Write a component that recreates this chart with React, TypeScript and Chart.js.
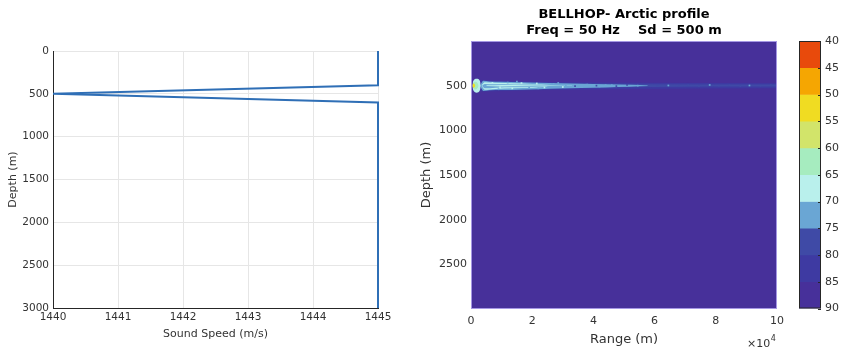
import React, { useEffect, useRef } from "react";
import { Chart, registerables } from "chart.js";

Chart.register(...registerables);
Chart.defaults.font.family = "'DejaVu Sans', sans-serif";

// ---------- Sound speed profile (left panel) ----------
const profileDepths = [0, 400, 500, 600, 3000];
const profileSpeeds = [1445, 1445, 1440, 1445, 1445];
const speedTicks = [1440, 1441, 1442, 1443, 1444, 1445];
const depthTicksLeft = [0, 500, 1000, 1500, 2000, 2500, 3000];

// ---------- Transmission loss (right panel) ----------
const rangeTicks = [0, 20000, 40000, 60000, 80000, 100000];
const depthTicksRight = [500, 1000, 1500, 2000, 2500];
const tlLevels = [40, 45, 50, 55, 60, 65, 70, 75, 80, 85, 90];
const tlColors = [
  "#e84a0c",
  "#f5a602",
  "#f0dc22",
  "#d2e46a",
  "#a6ecbf",
  "#b9f0ec",
  "#6aa6d4",
  "#3f4aa6",
  "#3e3aa2",
  "#47309a",
];
const backgroundLevel = 85;

// beam regions: ranges (m), top depth (m), bottom depth (m), TL level
const farOuterRanges = [3000, 20000, 50000, 100000];
const farOuterTop = [440, 455, 468, 474];
const farOuterBottom = [565, 550, 536, 530];
const farOuterLevel = 80;

const farInnerRanges = [5000, 30000, 60000, 100000];
const farInnerTop = [458, 474, 484, 488];
const farInnerBottom = [548, 528, 514, 510];
const farInnerLevel = 75;

const plumeOuterRanges = [3000, 4000, 6000, 10000, 16000, 22000, 29000, 36000, 44000, 52000, 58000];
const plumeOuterTop = [495, 445, 452, 456, 461, 467, 473, 479, 485, 491, 497];
const plumeOuterBottom = [505, 560, 552, 549, 545, 540, 533, 527, 520, 513, 505];
const plumeOuterLevel = 70;

const streakUpperRanges = [3500, 4500, 8000, 14000, 20000, 26000];
const streakUpperTop = [495, 462, 468, 474, 481, 489];
const streakUpperBottom = [505, 480, 484, 486, 488, 491];
const streakUpperLevel = 65;

const streakMidRanges = [5000, 10000, 18000, 26000, 33000];
const streakMidTop = [496, 492, 494, 497, 499];
const streakMidBottom = [504, 508, 506, 503, 501];
const streakMidLevel = 65;

const streakLowerRanges = [3500, 4500, 8000, 14000, 20000, 25000];
const streakLowerTop = [495, 530, 522, 518, 514, 510];
const streakLowerBottom = [505, 546, 536, 529, 522, 512];
const streakLowerLevel = 65;

const blobOuterRanges = [450, 600, 900, 1300, 1850, 2400, 2800, 3050, 3200];
const blobOuterTop = [500, 465, 440, 426, 422, 426, 440, 465, 500];
const blobOuterBottom = [500, 535, 560, 574, 578, 574, 560, 535, 500];
const blobOuterLevel = 65;

const blobInnerRanges = [500, 700, 1000, 1400, 1800, 2200, 2500];
const blobInnerTop = [500, 474, 460, 456, 460, 476, 500];
const blobInnerBottom = [500, 526, 540, 544, 540, 524, 500];
const blobInnerLevel = 60;

const coreRanges = [450, 600, 900, 1200, 1450];
const coreTop = [500, 482, 476, 484, 500];
const coreBottom = [500, 518, 524, 516, 500];
const coreLevel = 50;

const nearDotRanges = [7000, 9500, 12000, 13500, 16500, 19000, 21500, 24000, 27000, 30000, 9000, 15000, 22000, 28500, 34000, 38000, 42000, 46000];
const nearDotDepths = [470, 520, 465, 530, 472, 525, 476, 520, 480, 515, 540, 455, 530, 470, 512, 488, 508, 495];
const nearDotLevels = [65, 65, 70, 65, 65, 70, 65, 65, 70, 65, 70, 70, 70, 70, 70, 70, 70, 70];

const dotRanges = [31000, 34000, 37500, 41000, 44000, 47500, 51000, 54500, 58000, 61000, 64500, 68000, 71000, 74500, 78000, 81000, 84500, 88000, 91000, 94500, 98000];
const dotDepths = [495, 505, 490, 500, 495, 505, 492, 500, 495, 505, 498, 500, 495, 505, 492, 500, 495, 505, 498, 500, 495];
const dotLevels = [70, 75, 70, 75, 70, 75, 75, 70, 75, 75, 70, 75, 75, 75, 70, 75, 75, 75, 70, 75, 75];

const colorFor = (level: number) => tlColors[Math.max(0, Math.min(tlColors.length - 1, Math.round((level - tlLevels[0]) / 5)))];

const TEXT = "#333333";

export default function App() {
  const leftRef = useRef<HTMLCanvasElement>(null);
  const rightRef = useRef<HTMLCanvasElement>(null);
  const barRef = useRef<HTMLCanvasElement>(null);

  useEffect(() => {
    const charts: Chart[] = [];

    // ---- left: sound speed profile ----
    charts.push(
      new Chart(leftRef.current!, {
        type: "line",
        data: {
          datasets: [
            {
              data: profileSpeeds.map((s, i) => ({ x: s, y: profileDepths[i] })),
              borderColor: "#2f6fb6",
              borderWidth: 2,
              pointRadius: 0,
              fill: false,
              tension: 0,
              clip: false as any,
            },
          ],
        },
        options: {
          animation: false,
          responsive: false,
          maintainAspectRatio: false,
          layout: { padding: { left: 0, right: 22, top: 51, bottom: 0 } },
          plugins: { legend: { display: false }, tooltip: { enabled: false } },
          scales: {
            x: {
              type: "linear",
              min: 1440,
              max: 1445,
              afterBuildTicks: (s: any) => {
                s.ticks = speedTicks.map((v) => ({ value: v }));
              },
              afterFit: (s: any) => {
                s.height = 39;
              },
              ticks: { font: { size: 10.5 }, color: TEXT, padding: 3, maxRotation: 0, callback: (v: any) => String(v) },
              grid: { color: "#e6e6e6", drawTicks: false },
              border: { color: "#262626", width: 1 },
              title: { display: true, text: "Sound Speed (m/s)", font: { size: 11 }, color: TEXT, padding: { top: 0, bottom: 6 } },
            },
            y: {
              type: "linear",
              min: 0,
              max: 3000,
              reverse: true,
              afterBuildTicks: (s: any) => {
                s.ticks = depthTicksLeft.map((v) => ({ value: v }));
              },
              afterFit: (s: any) => {
                s.width = 53;
              },
              ticks: { font: { size: 10.5 }, color: TEXT, padding: 4, callback: (v: any) => String(v) },
              grid: { color: "#e6e6e6", drawTicks: false },
              border: { color: "#262626", width: 1 },
              title: { display: true, text: "Depth (m)", font: { size: 11 }, color: TEXT, padding: { top: 7, bottom: 0 } },
            },
          },
        },
      })
    );

    // ---- right: transmission loss field ----
    const bands = [
      { r: farOuterRanges, t: farOuterTop, b: farOuterBottom, l: farOuterLevel },
      { r: farInnerRanges, t: farInnerTop, b: farInnerBottom, l: farInnerLevel },
      { r: plumeOuterRanges, t: plumeOuterTop, b: plumeOuterBottom, l: plumeOuterLevel },
      { r: streakUpperRanges, t: streakUpperTop, b: streakUpperBottom, l: streakUpperLevel },
      { r: streakMidRanges, t: streakMidTop, b: streakMidBottom, l: streakMidLevel },
      { r: streakLowerRanges, t: streakLowerTop, b: streakLowerBottom, l: streakLowerLevel },
      { r: blobOuterRanges, t: blobOuterTop, b: blobOuterBottom, l: blobOuterLevel },
      { r: blobInnerRanges, t: blobInnerTop, b: blobInnerBottom, l: blobInnerLevel },
      { r: coreRanges, t: coreTop, b: coreBottom, l: coreLevel },
    ];
    const datasets: any[] = [];
    bands.forEach((band, k) => {
      const order = 100 - k * 2;
      datasets.push({
        type: "line",
        order,
        data: band.r.map((x, i) => ({ x, y: band.t[i] })),
        borderWidth: 0,
        borderColor: "transparent",
        pointRadius: 0,
        fill: false,
        cubicInterpolationMode: "monotone",
      });
      datasets.push({
        type: "line",
        order: order - 1,
        data: band.r.map((x, i) => ({ x, y: band.b[i] })),
        borderWidth: 0,
        borderColor: "transparent",
        backgroundColor: colorFor(band.l),
        pointRadius: 0,
        fill: "-1",
        cubicInterpolationMode: "monotone",
      });
    });
    datasets.push({
      type: "scatter",
      order: 1,
      data: nearDotRanges.map((x, i) => ({ x, y: nearDotDepths[i] })),
      pointStyle: "rect",
      pointRadius: 1.2,
      borderWidth: 0,
      backgroundColor: nearDotLevels.map((l) => colorFor(l)),
    });
    datasets.push({
      type: "scatter",
      order: 0,
      data: dotRanges.map((x, i) => ({ x, y: dotDepths[i] })),
      pointStyle: "rect",
      pointRadius: 1.2,
      borderWidth: 0,
      backgroundColor: dotLevels.map((l) => colorFor(l)),
    });

    const fieldPlugin = {
      id: "field",
      beforeDatasetsDraw(chart: any) {
        const { ctx, chartArea: a } = chart;
        ctx.save();
        ctx.fillStyle = colorFor(backgroundLevel);
        ctx.fillRect(a.left, a.top, a.right - a.left, a.bottom - a.top);
        ctx.restore();
      },
      afterDraw(chart: any) {
        const { ctx, chartArea: a } = chart;
        ctx.save();
        ctx.strokeStyle = "#a597e4";
        ctx.lineWidth = 1;
        ctx.strokeRect(a.left + 0.5, a.top + 0.5, a.right - a.left - 1, a.bottom - a.top - 1);
        ctx.fillStyle = TEXT;
        ctx.textBaseline = "alphabetic";
        ctx.font = "11px 'DejaVu Sans'";
        ctx.textAlign = "left";
        const baseX = a.right - 30;
        const baseY = 347;
        ctx.fillText("×10", baseX, baseY);
        const w = ctx.measureText("×10").width;
        ctx.font = "8px 'DejaVu Sans'";
        ctx.fillText("4", baseX + w + 0.5, baseY - 6);
        ctx.restore();
      },
    };

    charts.push(
      new Chart(rightRef.current!, {
        type: "line",
        data: { datasets },
        options: {
          animation: false,
          responsive: false,
          maintainAspectRatio: false,
          layout: { padding: { left: 0, right: 11, top: 0, bottom: 0 } },
          plugins: {
            legend: { display: false },
            tooltip: { enabled: false },
            title: {
              display: true,
              fullSize: false,
              text: ["BELLHOP- Arctic profile", "Freq = 50 Hz    Sd = 500 m"],
              font: { size: 13, weight: "bold", lineHeight: 16 / 13 },
              color: "#000",
              padding: { top: 7, bottom: 2 },
            },
          },
          scales: {
            x: {
              type: "linear",
              min: 0,
              max: 100000,
              afterBuildTicks: (s: any) => {
                s.ticks = rangeTicks.map((v) => ({ value: v }));
              },
              afterFit: (s: any) => {
                s.height = 38;
              },
              ticks: { font: { size: 11 }, color: TEXT, padding: 6, maxRotation: 0, callback: (v: any) => String(Number(v) / 10000) },
              grid: { display: false, drawTicks: false },
              border: { display: false },
              title: { display: true, text: "Range (m)", font: { size: 13 }, color: TEXT, padding: { top: 0, bottom: 0 } },
            },
            y: {
              type: "linear",
              min: 0,
              max: 3000,
              reverse: true,
              afterBuildTicks: (s: any) => {
                s.ticks = depthTicksRight.map((v) => ({ value: v }));
              },
              afterFit: (s: any) => {
                s.width = 56;
              },
              ticks: { font: { size: 11 }, color: TEXT, padding: 4, callback: (v: any) => String(v) },
              grid: { display: false, drawTicks: false },
              border: { display: false },
              title: { display: true, text: "Depth (m)", font: { size: 13 }, color: TEXT, padding: { top: 4, bottom: 0 } },
            },
          },
        },
        plugins: [fieldPlugin],
      })
    );

    // ---- colorbar ----
    const barPlugin = {
      id: "cbBorder",
      afterDatasetsDraw(chart: any) {
        const { ctx, chartArea: a } = chart;
        ctx.save();
        ctx.strokeStyle = "#262626";
        ctx.lineWidth = 1;
        ctx.strokeRect(a.left + 0.5, a.top + 0.5, a.right - a.left - 1, a.bottom - a.top - 1);
        const yScale = chart.scales.y;
        tlLevels.forEach((v) => {
          const y = Math.round(yScale.getPixelForValue(v)) + 0.5;
          ctx.beginPath();
          ctx.moveTo(a.right - 3, y);
          ctx.lineTo(a.right, y);
          ctx.stroke();
        });
        ctx.restore();
      },
    };
    charts.push(
      new Chart(barRef.current!, {
        type: "bar",
        data: {
          labels: ["TL"],
          datasets: tlColors.map((c, i) => ({
            data: [[tlLevels[i], tlLevels[i + 1]]] as any,
            backgroundColor: c,
            borderWidth: 0,
            grouped: false,
            barPercentage: 1,
            categoryPercentage: 1,
          })),
        },
        options: {
          animation: false,
          responsive: false,
          maintainAspectRatio: false,
          layout: { padding: { left: 9, right: 0, top: 41, bottom: 38.5 } },
          plugins: { legend: { display: false }, tooltip: { enabled: false } },
          scales: {
            x: { display: false },
            y: {
              position: "right",
              min: 40,
              max: 90,
              reverse: true,
              afterBuildTicks: (s: any) => {
                s.ticks = tlLevels.map((v) => ({ value: v }));
              },
              afterFit: (s: any) => {
                s.width = 23;
              },
              ticks: { font: { size: 11 }, color: TEXT, padding: 4 },
              grid: { display: false, drawTicks: false },
              border: { display: false },
            },
          },
        },
        plugins: [barPlugin],
      })
    );

    return () => charts.forEach((c) => c.destroy());
  }, []);

  return (
    <div style={{ position: "fixed", left: 0, top: 0, width: 844, height: 347, background: "#fff" }}>
      <canvas ref={leftRef} width={400} height={347} style={{ position: "absolute", left: 0, top: 0, width: 400, height: 347 }} />
      <canvas ref={rightRef} width={375} height={347} style={{ position: "absolute", left: 415, top: 0, width: 375, height: 347 }} />
      <canvas ref={barRef} width={54} height={347} style={{ position: "absolute", left: 790, top: 0, width: 54, height: 347 }} />
    </div>
  );
}
